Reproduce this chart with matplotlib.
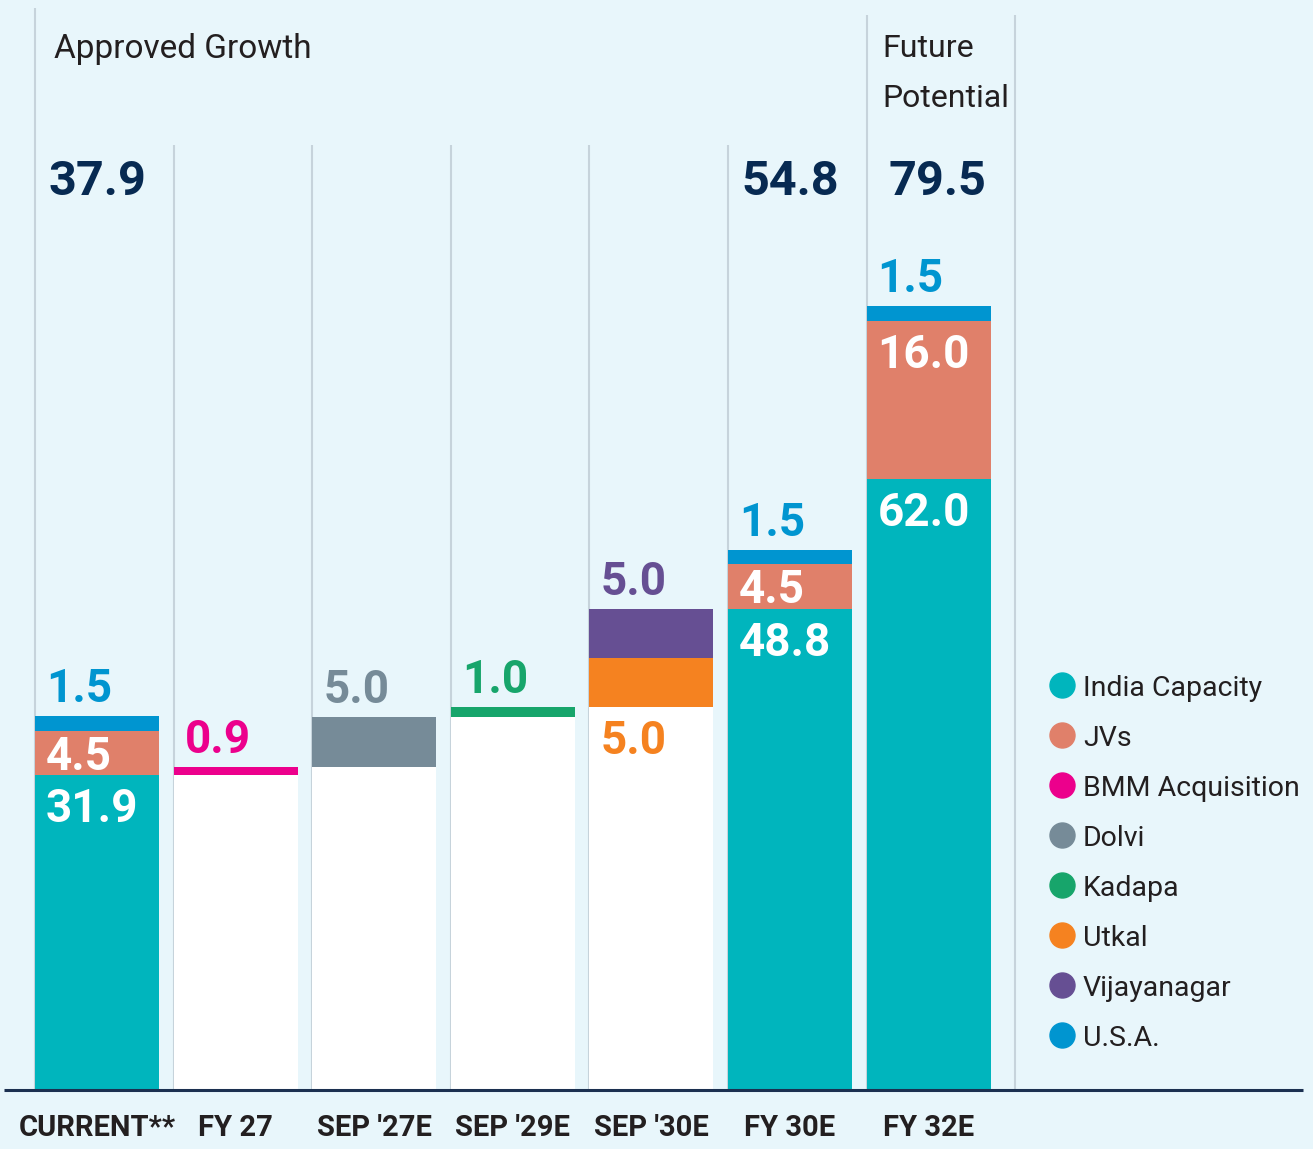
import numpy as np
import matplotlib
matplotlib.use("Agg")
import matplotlib.pyplot as plt

plt.rcParams["font.family"] = ["Roboto", "DejaVu Sans"]

# data (million tonnes)
categories = ["CURRENT**", "FY 27", "SEP '27E", "SEP '29E", "SEP '30E", "FY 30E", "FY 32E"]
india = np.array([31.9, 0, 0, 0, 0, 48.8, 62.0])
jvs = np.array([4.5, 0, 0, 0, 0, 4.5, 16.0])
bmm = np.array([0, 0.9, 0, 0, 0, 0, 0])
dolvi = np.array([0, 0, 5.0, 0, 0, 0, 0])
kadapa = np.array([0, 0, 0, 1.0, 0, 0, 0])
utkal = np.array([0, 0, 0, 0, 5.0, 0, 0])
vijayanagar = np.array([0, 0, 0, 0, 5.0, 0, 0])
usa = np.array([1.5, 0, 0, 0, 0, 1.5, 1.5])

series_names = ["India Capacity", "JVs", "BMM Acquisition", "Dolvi", "Kadapa",
                "Utkal", "Vijayanagar", "U.S.A."]
series_vals = [india, jvs, bmm, dolvi, kadapa, utkal, vijayanagar, usa]
colors = ["#00B5BD", "#E0806A", "#EC008C", "#768B98", "#17A56B",
          "#F58220", "#664F93", "#0095D0"]
# where each series puts its value label
label_pos = ["inside", "inside", "above", "above", "above", "below", "above", "above"]

bg = "#E8F6FB"
navy = "#072A52"
dark = "#231F20"

# waterfall: increments start from the current India capacity
incr = bmm + dolvi + kadapa + utkal + vijayanagar
is_step = incr > 0
base = np.where(is_step, india[0] + np.concatenate([[0], np.cumsum(incr)[:-1]]), 0)

x = np.arange(len(categories))
w = 0.895
ppu = 9.86  # pixels per unit (y)

fig = plt.figure(figsize=(13.13, 11.49), dpi=100, facecolor=bg)
ax = fig.add_axes([0, 0, 1, 1])
ax.set_facecolor(bg)
ax.set_xlim(-97 / 138.6, (1313 - 97) / 138.6)
ax.set_ylim(-59 / ppu, 1090 / ppu)
ax.axis("off")


def py(p):
    # pixel row -> data y
    return (1090 - p) / ppu


# divider lines
div_x = list(x - w / 2) + [(1015 - 97) / 138.6]
div_top = [8, 145, 145, 145, 145, 145, 15, 15]
for dx, t in zip(div_x, div_top):
    ax.plot([dx, dx], [0, py(t)], color="#C6D3DB", lw=1.5, zorder=1, solid_capstyle="butt")

# white base of waterfall bars
ax.bar(x, base, width=w, color="white", zorder=2)

running = base.astype(float).copy()
for name, vals, col, pos in zip(series_names, series_vals, colors, label_pos):
    ax.bar(x, vals, width=w, bottom=running, color=col, zorder=3)
    for i in np.nonzero(vals)[0]:
        lo, hi = running[i], running[i] + vals[i]
        tx = x[i] - w / 2 + 0.08
        if pos == "inside":
            if vals[i] > 8:
                ty, c = hi - 4.75, "white"
            else:
                ty, c = (lo + hi) / 2 - 1.65, "white"
        elif pos == "below":
            ty, c = lo - 4.7, col
        else:
            ty, c = hi + 1.42, col
        ax.text(tx, ty, f"{vals[i]:.1f}", color=c, fontsize=33, fontweight="bold",
                ha="left", va="baseline", zorder=5)
    running += vals

# totals
totals = india + jvs + usa
tot_off = [0, 0, 0, 0, 0, 0, 0.065]
for i in np.nonzero(india)[0]:
    ax.text(x[i] + tot_off[i], py(195), f"{totals[i]:.1f}", color=navy, fontsize=35,
            fontweight="bold", ha="center", va="baseline", zorder=5)

# headings
ax.text((54 - 97) / 138.6, py(58), "Approved Growth", fontsize=24, color=dark,
        ha="left", va="baseline")
ax.text((882 - 97) / 138.6, py(57), "Future", fontsize=23, color=dark,
        ha="left", va="baseline")
ax.text((882 - 97) / 138.6, py(107), "Potential", fontsize=23, color=dark,
        ha="left", va="baseline")

# baseline axis
ax.plot([(4 - 97) / 138.6, (1303 - 97) / 138.6], [0, 0], color="#1B3050", lw=2.2,
        zorder=6, solid_capstyle="butt")

# category labels
for i, cat in enumerate(categories):
    ax.text(x[i], py(1136), cat, fontsize=21, fontweight="bold", color=dark,
            ha="center", va="baseline")

# legend
for k, (name, col) in enumerate(zip(series_names, colors)):
    cy = 685 + 50 * k
    fig.lines.append(plt.Line2D([1062 / 1313], [1 - cy / 1149], marker="o", markersize=18,
                                color=col, linestyle="none", transform=fig.transFigure))
    fig.text(1083 / 1313, 1 - (cy + 11) / 1149, name, fontsize=20.5, color=dark,
             ha="left", va="baseline")

fig.savefig("out.png", dpi=100, facecolor=bg)
